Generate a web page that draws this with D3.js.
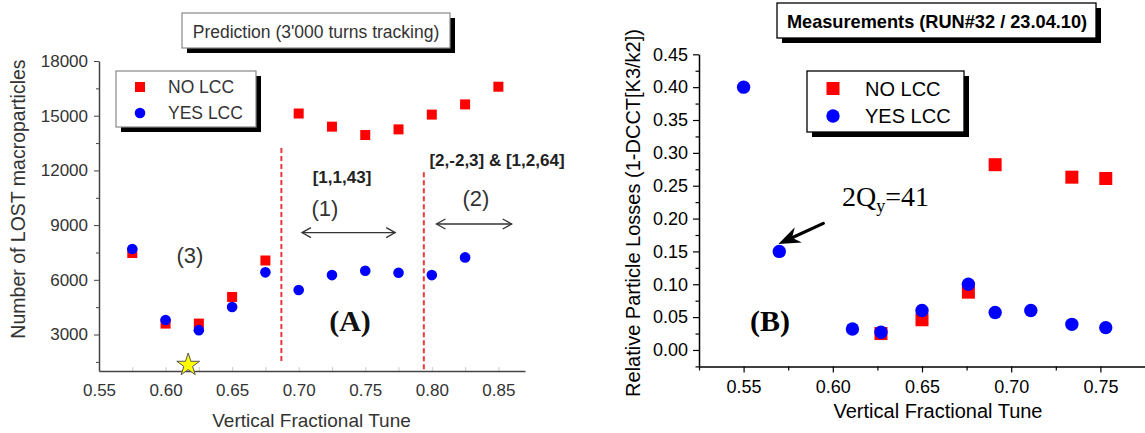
<!DOCTYPE html>
<html>
<head>
<meta charset="utf-8">
<script src="https://cdn.jsdelivr.net/npm/d3@7"></script>
<style>
  html, body { margin: 0; padding: 0; background: #fff; }
  svg { display: block; font-family: "Liberation Sans", Arial, sans-serif; }
</style>
</head>
<body>
<svg id="chart" width="1145" height="433"></svg>
<script>
// ---------- DATA ----------
// Panel A: Prediction (3'000 turns tracking)
const predNoLccTune  = [0.575, 0.600, 0.625, 0.650, 0.675, 0.700, 0.725, 0.750, 0.775, 0.800, 0.825, 0.850];
const predNoLcc      = [7470, 3600, 3600, 5060, 7060, 15120, 14400, 13940, 14250, 15060, 15620, 16590];
const predYesLccTune = [0.575, 0.600, 0.625, 0.650, 0.675, 0.700, 0.725, 0.750, 0.775, 0.800, 0.825];
const predYesLcc     = [7690, 3800, 3240, 4510, 6410, 5440, 6260, 6500, 6390, 6260, 7230];
const predYTicks     = [3000, 6000, 9000, 12000, 15000, 18000];
const predXTicks     = [0.55, 0.60, 0.65, 0.70, 0.75, 0.80, 0.85];
const predResonances = [0.687, 0.794];            // dashed resonance lines
const predStarTune   = [0.617];                    // working point star

// Panel B: Measurements (RUN#32 / 23.04.10)
const measNoLccTune  = [0.627, 0.650, 0.676, 0.691, 0.734, 0.753];
const measNoLcc      = [0.025, 0.046, 0.088, 0.282, 0.263, 0.261];
const measYesLccTune = [0.550, 0.570, 0.611, 0.627, 0.650, 0.676, 0.691, 0.711, 0.734, 0.753];
const measYesLcc     = [0.400, 0.150, 0.032, 0.027, 0.060, 0.100, 0.057, 0.060, 0.039, 0.034];
const measYTicks     = [0.00, 0.05, 0.10, 0.15, 0.20, 0.25, 0.30, 0.35, 0.40, 0.45];
const measXTicks     = [0.55, 0.60, 0.65, 0.70, 0.75];

const legendLabels = ["NO LCC", "YES LCC"];

// ---------- SETUP ----------
const svg = d3.select("#chart");
svg.append("rect").attr("width", 1145).attr("height", 433).attr("fill", "#fff");
const RED = "#ff0000", BLUE = "#0000ff";
const SERIF = '"Liberation Serif", "Times New Roman", serif';

function shadowBox(g, x, y, w, h, stroke, sw) {
  g.append("rect").attr("x", x + 5).attr("y", y + 5).attr("width", w).attr("height", h).attr("fill", "#000");
  g.append("rect").attr("x", x).attr("y", y).attr("width", w).attr("height", h)
    .attr("fill", "#fff").attr("stroke", stroke).attr("stroke-width", sw);
}

// ================= PANEL A =================
const xA = d3.scaleLinear().domain([0.55, 0.87]).range([99, 525]);
const yA = d3.scaleLinear().domain([1000, 18000]).range([371, 61]);
const gA = svg.append("g");
const axisColA = "#444", textColA = "#333";

// y axis
gA.append("g").attr("transform", `translate(${xA(0.55)},0)`)
  .call(d3.axisLeft(yA).tickValues(predYTicks).tickSize(5).tickSizeOuter(0).tickPadding(6).tickFormat(d3.format("d")));
gA.append("g").attr("transform", `translate(${xA(0.55)},0)`)
  .call(d3.axisLeft(yA).tickValues(d3.range(1500, 18000, 3000)).tickSize(3).tickSizeOuter(0).tickFormat(""))
  .select(".domain").remove();
// x axis (faint inner minor ticks)
gA.append("g").attr("transform", `translate(0,${yA(1000)})`)
  .call(d3.axisBottom(xA).tickValues(d3.range(0.575, 0.87, 0.025)).tickSize(-4).tickSizeOuter(0).tickFormat(""))
  .call(g => g.selectAll(".tick line").attr("class", "faint").attr("stroke", "#ccc"))
  .select(".domain").remove();
gA.append("g").attr("transform", `translate(0,${yA(1000)})`)
  .call(d3.axisBottom(xA).tickValues(predXTicks).tickSize(0).tickSizeOuter(0).tickPadding(13).tickFormat(d3.format(".2f")));
gA.selectAll(".domain").attr("stroke", axisColA).attr("stroke-width", 1.5);
gA.selectAll(".tick line:not(.faint)").attr("stroke", axisColA);
gA.selectAll(".tick text").attr("font-family", null).attr("font-size", 17).attr("fill", textColA);

// axis labels
gA.append("text").attr("transform", "translate(25,199) rotate(-90)").attr("text-anchor", "middle")
  .attr("font-size", 19.5).attr("fill", textColA).text("Number of LOST macroparticles");
gA.append("text").attr("x", 311.5).attr("y", 427).attr("text-anchor", "middle")
  .attr("font-size", 19).attr("fill", textColA).text("Vertical Fractional Tune");

// resonance dashed lines
const resExtent = [[13230, 1500], [11900, 1000]];
gA.selectAll("line.res").data(predResonances).join("line").attr("class", "res")
  .attr("x1", d => xA(d)).attr("x2", d => xA(d))
  .attr("y1", (d, i) => yA(resExtent[i][0])).attr("y2", (d, i) => yA(resExtent[i][1]))
  .attr("stroke", "#e8383d").attr("stroke-width", 2).attr("stroke-dasharray", "5,3");

// double arrows
function dblArrow(g, x1, x2, y) {
  g.append("line").attr("x1", x1).attr("x2", x2).attr("y1", y).attr("y2", y).attr("stroke", "#333").attr("stroke-width", 1.3);
  g.append("path").attr("d", `M${x1 + 9},${y - 5} L${x1},${y} L${x1 + 9},${y + 5}`).attr("fill", "none").attr("stroke", "#333").attr("stroke-width", 1.3);
  g.append("path").attr("d", `M${x2 - 9},${y - 5} L${x2},${y} L${x2 - 9},${y + 5}`).attr("fill", "none").attr("stroke", "#333").attr("stroke-width", 1.3);
}
dblArrow(gA, xA(0.7025), xA(0.7725), yA(8590));
dblArrow(gA, xA(0.8035), xA(0.86), yA(9060));

// annotation texts
gA.append("text").attr("x", 342).attr("y", 183).attr("text-anchor", "middle").attr("font-weight", "bold")
  .attr("font-size", 17).attr("fill", "#222").text("[1,1,43]");
gA.append("text").attr("x", 497).attr("y", 166).attr("text-anchor", "middle").attr("font-weight", "bold")
  .attr("font-size", 17).attr("fill", "#222").text("[2,-2,3] & [1,2,64]");
gA.append("text").attr("x", 325).attr("y", 216).attr("text-anchor", "middle").attr("font-size", 22).attr("fill", textColA).text("(1)");
gA.append("text").attr("x", 476).attr("y", 206).attr("text-anchor", "middle").attr("font-size", 22).attr("fill", textColA).text("(2)");
gA.append("text").attr("x", 190).attr("y", 263).attr("text-anchor", "middle").attr("font-size", 22).attr("fill", textColA).text("(3)");
gA.append("text").attr("x", 350).attr("y", 331).attr("text-anchor", "middle").style("font-family", SERIF)
  .attr("font-weight", "bold").attr("font-size", 30).attr("fill", "#111").text("(A)");

// data marks
const sqA = 10, rA = 5.3;
gA.selectAll("rect.no").data(predNoLcc).join("rect").attr("class", "no")
  .attr("x", (d, i) => xA(predNoLccTune[i]) - sqA / 2).attr("y", d => yA(d) - sqA / 2)
  .attr("width", sqA).attr("height", sqA).attr("fill", RED);
gA.selectAll("circle.yes").data(predYesLcc).join("circle").attr("class", "yes")
  .attr("cx", (d, i) => xA(predYesLccTune[i])).attr("cy", d => yA(d)).attr("r", rA).attr("fill", BLUE);

// star
gA.selectAll("path.star").data(predStarTune).join("path").attr("class", "star")
  .attr("transform", d => `translate(${xA(d)},${yA(1330)})`)
  .attr("d", d3.symbol(d3.symbolStar, 162)())
  .attr("fill", "#ffff00").attr("stroke", "#555").attr("stroke-width", 1);

// title box
shadowBox(gA, 182, 13, 268, 35, "#888", 1.2);
gA.append("text").attr("x", 316).attr("y", 38).attr("text-anchor", "middle").attr("font-size", 17.5).attr("fill", textColA)
  .text("Prediction (3'000 turns tracking)");

// legend
shadowBox(gA, 116, 71, 140, 56, "#888", 1.2);
const legA = gA.append("g");
legA.append("rect").attr("x", 140 - sqA / 2).attr("y", 87 - sqA / 2).attr("width", sqA).attr("height", sqA).attr("fill", RED);
legA.append("circle").attr("cx", 140).attr("cy", 113).attr("r", rA).attr("fill", BLUE);
legA.selectAll("text").data(legendLabels).join("text").attr("x", 168).attr("y", (d, i) => 93 + i * 26)
  .attr("font-size", 17.5).attr("fill", textColA).text(d => d);

// ================= PANEL B =================
const xB = d3.scaleLinear().domain([0.525, 0.775]).range([699, 1145]);
const yB = d3.scaleLinear().domain([-0.025, 0.45]).range([366.4, 54.3]);
const gB = svg.append("g");

gB.append("g").attr("transform", `translate(${xB(0.525)},0)`)
  .call(d3.axisLeft(yB).tickValues(measYTicks).tickSize(6).tickSizeOuter(0).tickPadding(5).tickFormat(d3.format(".2f")));
gB.append("g").attr("transform", `translate(${xB(0.525)},0)`)
  .call(d3.axisLeft(yB).tickValues(d3.range(-0.025, 0.45, 0.05)).tickSize(3.5).tickSizeOuter(0).tickFormat(""))
  .select(".domain").remove();
gB.append("g").attr("transform", `translate(0,${yB(-0.025)})`)
  .call(d3.axisBottom(xB).tickValues(measXTicks).tickSize(6).tickSizeOuter(0).tickPadding(7.5).tickFormat(d3.format(".2f")));
gB.append("g").attr("transform", `translate(0,${yB(-0.025)})`)
  .call(d3.axisBottom(xB).tickValues(d3.range(0.525, 0.775, 0.05)).tickSize(4).tickSizeOuter(0).tickFormat(""))
  .select(".domain").remove();
gB.selectAll(".domain").attr("stroke", "#000").attr("stroke-width", 1.5);
gB.selectAll(".tick line").attr("stroke", "#000").attr("stroke-width", 1.2);
gB.selectAll(".tick text").attr("font-family", null).attr("font-size", 18).attr("fill", "#000");

gB.append("text").attr("transform", "translate(640,213) rotate(-90)").attr("text-anchor", "middle")
  .attr("font-size", 20).attr("fill", "#000").text("Relative Particle Losses (1-DCCT[K3/k2])");
gB.append("text").attr("x", 938).attr("y", 418).attr("text-anchor", "middle")
  .attr("font-size", 20).attr("fill", "#000").text("Vertical Fractional Tune");

gB.append("text").attr("x", 770).attr("y", 331).attr("text-anchor", "middle").style("font-family", SERIF)
  .attr("font-weight", "bold").attr("font-size", 30).attr("fill", "#000").text("(B)");

// data marks
const sqB = 13, rB = 6.7;
gB.selectAll("rect.no").data(measNoLcc).join("rect").attr("class", "no")
  .attr("x", (d, i) => xB(measNoLccTune[i]) - sqB / 2).attr("y", d => yB(d) - sqB / 2)
  .attr("width", sqB).attr("height", sqB).attr("fill", RED);
gB.selectAll("circle.yes").data(measYesLcc).join("circle").attr("class", "yes")
  .attr("cx", (d, i) => xB(measYesLccTune[i])).attr("cy", d => yB(d)).attr("r", rB).attr("fill", BLUE);

// 2Qy=41 arrow
(function() {
  const tx = xB(0.5695), ty = yB(0.1612), sx = xB(0.5947), sy = yB(0.1927);
  const ang = Math.atan2(ty - sy, tx - sx);
  const L = 22, W = 8.5, back = 15;
  const ux = Math.cos(ang), uy = Math.sin(ang), px = -uy, py = ux;
  gB.append("line").attr("x1", sx).attr("y1", sy).attr("x2", tx - ux * back).attr("y2", ty - uy * back)
    .attr("stroke", "#000").attr("stroke-width", 3.2).attr("stroke-linecap", "round");
  const p = [[tx, ty], [tx - ux * L + px * W, ty - uy * L + py * W], [tx - ux * back, ty - uy * back],
             [tx - ux * L - px * W, ty - uy * L - py * W]];
  gB.append("path").attr("d", "M" + p.map(q => q.join(",")).join("L") + "Z").attr("fill", "#000");
})();
const qt = gB.append("text").attr("x", 842).attr("y", 206).style("font-family", SERIF).attr("font-size", 28).attr("fill", "#000");
qt.append("tspan").text("2Q");
qt.append("tspan").attr("font-size", 18).attr("dy", 6).text("y");
qt.append("tspan").attr("dy", -6).text("=41");

// title
shadowBox(gB, 777, 3, 319, 35, "#000", 1.3);
gB.append("text").attr("x", 937).attr("y", 27.5).attr("text-anchor", "middle").attr("font-weight", "bold")
  .attr("font-size", 18.2).attr("fill", "#000").text("Measurements (RUN#32 / 23.04.10)");

// legend
shadowBox(gB, 807, 71, 157, 61, "#000", 1.3);
gB.append("rect").attr("x", 833 - sqB / 2).attr("y", 88.5 - sqB / 2).attr("width", sqB).attr("height", sqB).attr("fill", RED);
gB.append("circle").attr("cx", 833).attr("cy", 116).attr("r", rB).attr("fill", BLUE);
gB.selectAll("text.leg").data(legendLabels).join("text").attr("class", "leg").attr("x", 865).attr("y", (d, i) => 96 + i * 27)
  .attr("font-size", 20).attr("fill", "#000").text(d => d);
</script>
</body>
</html>
